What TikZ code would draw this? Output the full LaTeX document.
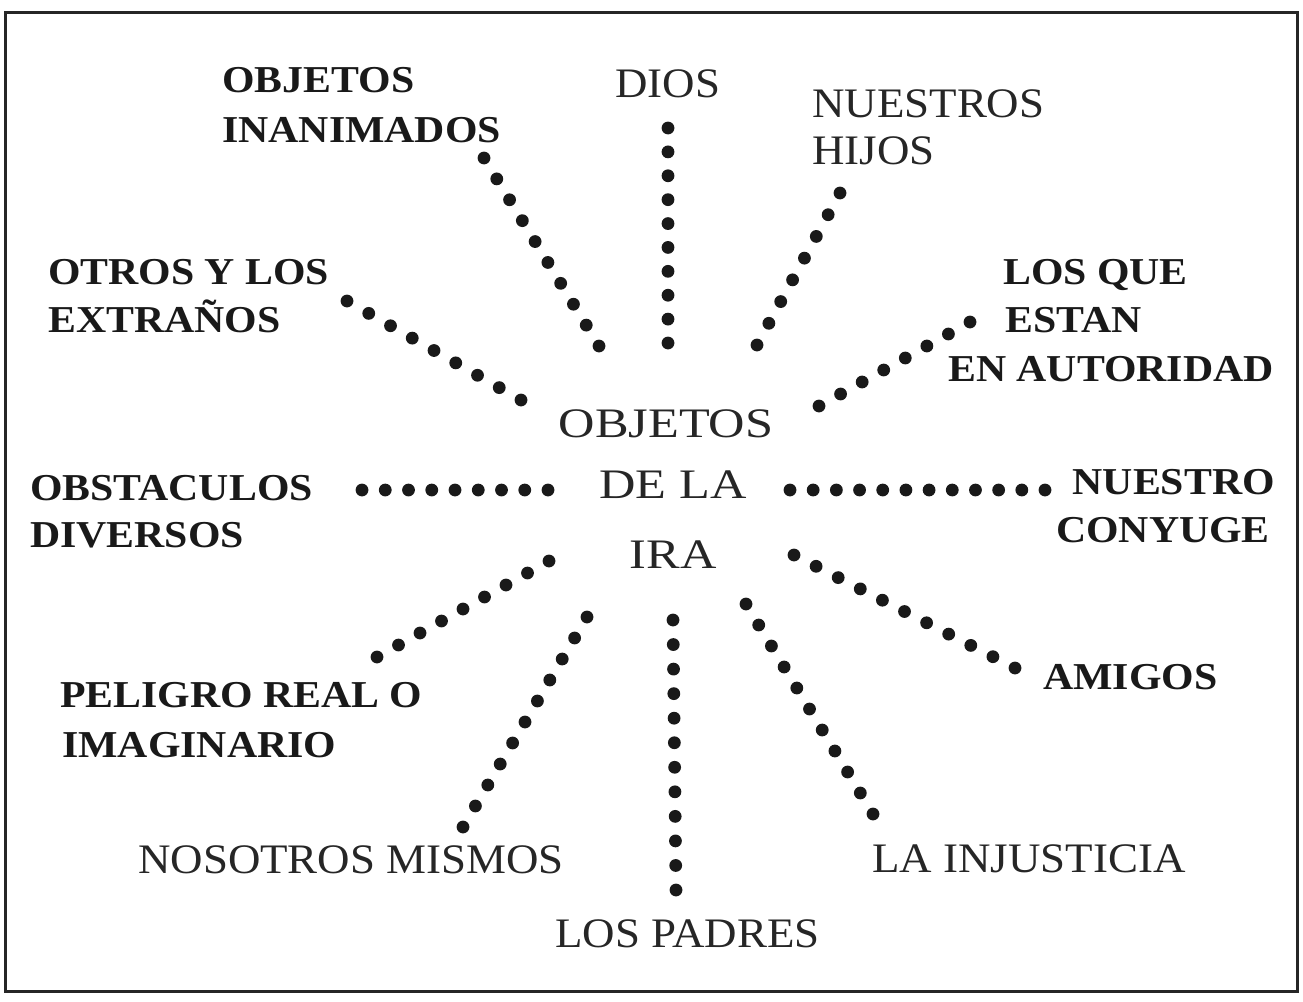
\documentclass[tikz,border=0pt]{standalone}
\usepackage{fontspec}
\setmainfont{Liberation Serif}
\newfontfamily\fontB[FakeStretch=1.1]{Liberation Serif}
\newfontfamily\fontR[FakeStretch=1.07]{Liberation Serif}
\newfontfamily\fontC[FakeStretch=1.2]{Liberation Serif}
\usetikzlibrary{calc}
\tikzset{
  lblb/.style={font=\fontB\bfseries\fontsize{38}{46}\selectfont, inner sep=0pt, text=black!90},
  lblr/.style={font=\fontR\fontsize{42}{50}\selectfont, inner sep=0pt, text=black!85},
  ctr/.style={font=\fontC\fontsize{42}{50}\selectfont, inner sep=0pt, text=black!85},
  frame/.style={draw=black!85, line width=3pt},
}
\newcommand\dotray[3]{\foreach \k in {0,...,#3} \fill[black!90] ($(#1)!\k/#3!(#2)$) circle[radius=6.4pt];}
\begin{document}
\begin{tikzpicture}[x=1pt,y=-1pt]
\useasboundingbox (0,0) rectangle (1303,1001);
\draw[frame] (5,12) rectangle (1297,991);
% labels
\node[lblb, anchor=base west] (objA) at (222,92) {OBJETOS};
\node[lblb, anchor=base west] (objB) at (222,142) {INANIMADOS};
\node[lblr, anchor=base west] (dios) at (615,97) {DIOS};
\node[lblr, anchor=base west] (hijA) at (812,117) {NUESTROS};
\node[lblr, anchor=base west] (hijB) at (812,164) {HIJOS};
\node[lblb, anchor=base west] (otrA) at (48,284) {OTROS Y LOS};
\node[lblb, anchor=base west] (otrB) at (48,332) {EXTRAÑOS};
\node[lblb, anchor=base west] (autA) at (1003,284) {LOS QUE};
\node[lblb, anchor=base west] (autB) at (1005,332) {ESTAN};
\node[lblb, anchor=base west] (autC) at (948,381) {EN AUTORIDAD};
\node[ctr, anchor=base] (cA) at (666,437) {OBJETOS};
\node[ctr, anchor=base] (cB) at (673,498) {DE LA};
\node[ctr, anchor=base] (cC) at (673,568) {IRA};
\node[lblb, anchor=base west] (obsA) at (30,500) {OBSTACULOS};
\node[lblb, anchor=base west] (obsB) at (30,547) {DIVERSOS};
\node[lblb, anchor=base east] (conA) at (1275,494) {NUESTRO};
\node[lblb, anchor=base east] (conB) at (1270,542) {CONYUGE};
\node[lblb, anchor=base west] (pelA) at (60,707) {PELIGRO REAL O};
\node[lblb, anchor=base west] (pelB) at (62,757) {IMAGINARIO};
\node[lblb, anchor=base west] (ami) at (1043,689) {AMIGOS};
\node[lblr, anchor=base west] (nos) at (138,873) {NOSOTROS MISMOS};
\node[lblr, anchor=base west] (inj) at (872,872) {LA INJUSTICIA};
\node[lblr, anchor=base west] (pad) at (555,947) {LOS PADRES};
% ray end points
\coordinate (r1a) at (484,158); \coordinate (r1b) at (599,346);
\coordinate (r2a) at (668,128); \coordinate (r2b) at (668,343);
\coordinate (r3a) at (840,193); \coordinate (r3b) at (757,345);
\coordinate (r4a) at (347,301); \coordinate (r4b) at (521,400);
\coordinate (r5a) at (970,322); \coordinate (r5b) at (819,406);
\coordinate (r6a) at (362,490); \coordinate (r6b) at (548,490);
\coordinate (r7a) at (790,490); \coordinate (r7b) at (1045,490);
\coordinate (r8a) at (549,561); \coordinate (r8b) at (377,657);
\coordinate (r9a) at (794,555); \coordinate (r9b) at (1015,668);
\coordinate (r10a) at (587,617); \coordinate (r10b) at (463,827);
\coordinate (r11a) at (673,620); \coordinate (r11b) at (676,890);
\coordinate (r12a) at (746,604); \coordinate (r12b) at (873,814);
% dotted rays
\dotray{r1a}{r1b}{9}
\dotray{r2a}{r2b}{9}
\dotray{r3a}{r3b}{7}
\dotray{r4a}{r4b}{8}
\dotray{r5a}{r5b}{7}
\dotray{r6a}{r6b}{8}
\dotray{r7a}{r7b}{11}
\dotray{r8a}{r8b}{8}
\dotray{r9a}{r9b}{10}
\dotray{r10a}{r10b}{10}
\dotray{r11a}{r11b}{11}
\dotray{r12a}{r12b}{10}
\end{tikzpicture}
\end{document}
